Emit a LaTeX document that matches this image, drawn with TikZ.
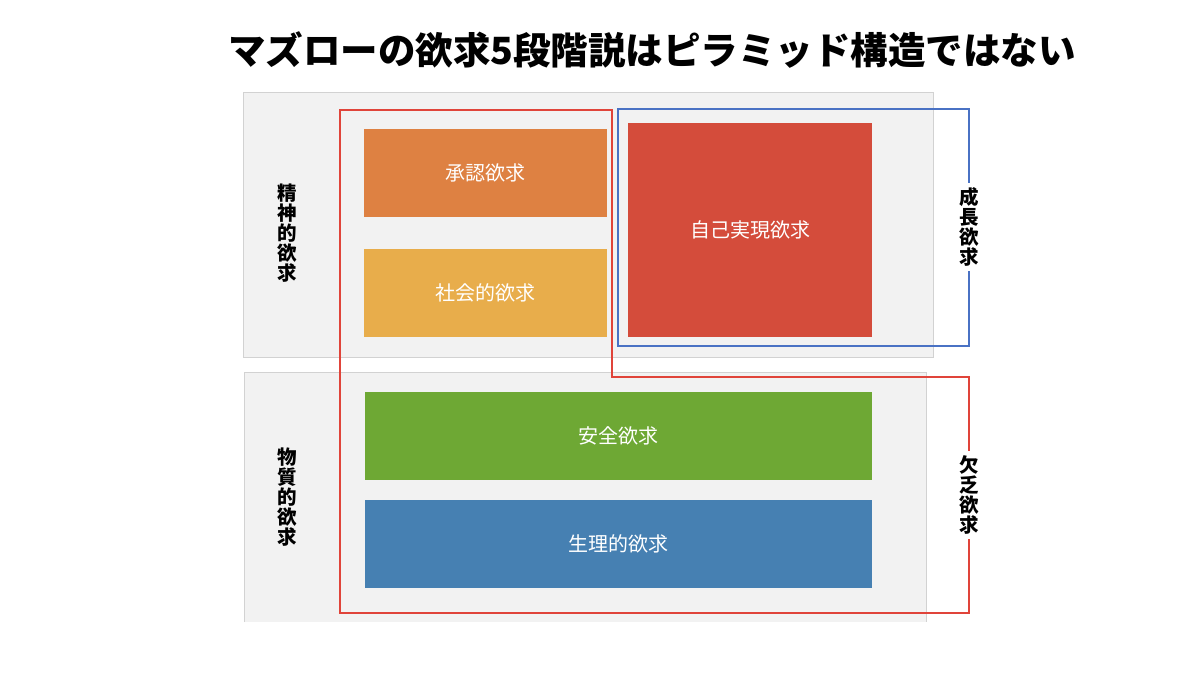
\documentclass[tikz,border=0pt]{standalone}
\usepackage{fontspec}
\newfontfamily\jpfont{Noto Sans CJK JP}
\definecolor{panelgray}{HTML}{F2F2F2}
\definecolor{panelline}{HTML}{D2D2D2}
\definecolor{selfred}{HTML}{D44C3B}
\definecolor{esteemorange}{HTML}{DE8142}
\definecolor{socialyellow}{HTML}{E8AD4B}
\definecolor{safetygreen}{HTML}{6EA834}
\definecolor{bodyblue}{HTML}{4680B2}
\definecolor{lackred}{HTML}{E0443A}
\definecolor{growblue}{HTML}{4A72C4}
\tikzset{
	panel/.style={fill=panelgray, draw=panelline, line width=1pt},
	need/.style={anchor=north west, inner sep=0pt, text=white,
		font=\jpfont\fontsize{20}{22}\selectfont},
	sidelabel/.style={inner xsep=1pt, inner ysep=5pt, align=center,
		font=\jpfont\bfseries\fontsize{19.5}{20}\selectfont},
	outline/.style={line width=1.6pt, line join=miter}
}
\begin{document}
\begin{tikzpicture}[x=1pt, y=-1pt]
	% page: 1200 x 675, y counted downwards
	\useasboundingbox (0, 0) rectangle (1200, 675);
	
	% title
	\node[font=\jpfont\bfseries\fontsize{37.5}{40}\selectfont] (title) at (652, 50) {マズローの欲求5段階説はピラミッド構造ではない};
	
	% upper panel (spiritual)
	\draw[panel] (243, 92) rectangle (933, 357);
	% lower panel (material), cut off at the bottom
	\fill[panelgray] (244, 372) rectangle (926, 622);
	\draw[panelline, line width=1pt] (244, 622) -- (244, 372) -- (926, 372) -- (926, 622);
	
	% the five needs
	\node[need, fill=esteemorange, minimum width=243pt, minimum height=88pt] (esteem) at (364, 129) {承認欲求};
	\node[need, fill=socialyellow, minimum width=243pt, minimum height=88pt] (social) at (364, 249) {社会的欲求};
	\node[need, fill=selfred, minimum width=244pt, minimum height=214pt] (self) at (628, 123) {自己実現欲求};
	\node[need, fill=safetygreen, minimum width=507pt, minimum height=88pt] (safety) at (365, 392) {安全欲求};
	\node[need, fill=bodyblue, minimum width=507pt, minimum height=88pt] (body) at (365, 500) {生理的欲求};
	
	% left labels
	\node[sidelabel] (spirit) at (287, 233) {精\\神\\的\\欲\\求};
	\node[sidelabel] (matter) at (287, 497) {物\\質\\的\\欲\\求};
	
	% deficiency needs outline
	\draw[outline, lackred] (340, 110) -- (612, 110) -- (612, 377) -- (969, 377) -- (969, 613) -- (340, 613) -- cycle;
	% growth needs outline
	\draw[outline, growblue] (618, 109) rectangle (969, 346);
	
	% right labels, over the outlines
	\node[sidelabel, fill=white] (growth) at (969, 227) {成\\長\\欲\\求};
	\node[sidelabel, fill=white] (lack) at (969, 495) {欠\\乏\\欲\\求};
\end{tikzpicture}
\end{document}
